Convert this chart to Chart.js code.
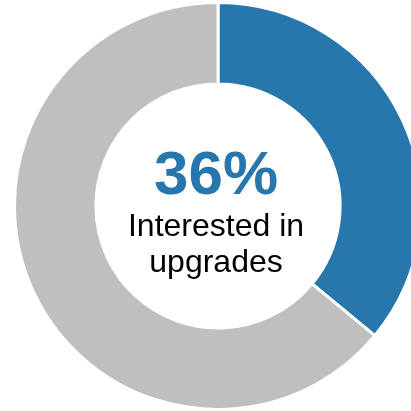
<!DOCTYPE html>
<html>
<head>
<meta charset="utf-8">
<script src="https://cdn.jsdelivr.net/npm/chart.js@4/dist/chart.umd.min.js"></script>
<style>
  html, body { margin: 0; padding: 0; background: #fff; overflow: hidden; width: 411px; height: 411px; }
  #wrap { position: absolute; left: 0; top: 1px; width: 436px; height: 410px; }
</style>
</head>
<body>
<div id="wrap"><canvas id="c"></canvas></div>
<script>
const categories = ['Interested in upgrades', 'Not interested'];
const shares = [36, 64];
const sliceColors = ['#2776AC', '#BFBFBF'];
const centerCaption = ['Interested in', 'upgrades'];

const centerText = {
  id: 'centerText',
  afterDraw(chart) {
    const arc = chart.getDatasetMeta(0).data[0];
    const ctx = chart.ctx;
    const cx = arc.x - 2, cy = arc.y;
    ctx.save();
    ctx.textAlign = 'center';
    ctx.textBaseline = 'alphabetic';
    ctx.fillStyle = sliceColors[0];
    ctx.font = 'bold 62px "Liberation Sans", Arial, sans-serif';
    ctx.fillText(shares[0] + '%', cx, cy - 12);
    ctx.fillStyle = '#000';
    ctx.font = '32px "Liberation Sans", Arial, sans-serif';
    ctx.fillText(centerCaption[0], cx, cy + 30);
    ctx.fillText(centerCaption[1], cx, cy + 66);
    ctx.restore();
  }
};

new Chart(document.getElementById('c'), {
  type: 'doughnut',
  data: {
    labels: categories,
    datasets: [{
      data: shares,
      backgroundColor: sliceColors,
      borderColor: '#ffffff',
      borderWidth: 3
    }]
  },
  options: {
    responsive: true,
    maintainAspectRatio: false,
    animation: false,
    cutout: '60%',
    layout: { padding: 0 },
    plugins: { legend: { display: false }, tooltip: { enabled: false } }
  },
  plugins: [centerText]
});
</script>
</body>
</html>
